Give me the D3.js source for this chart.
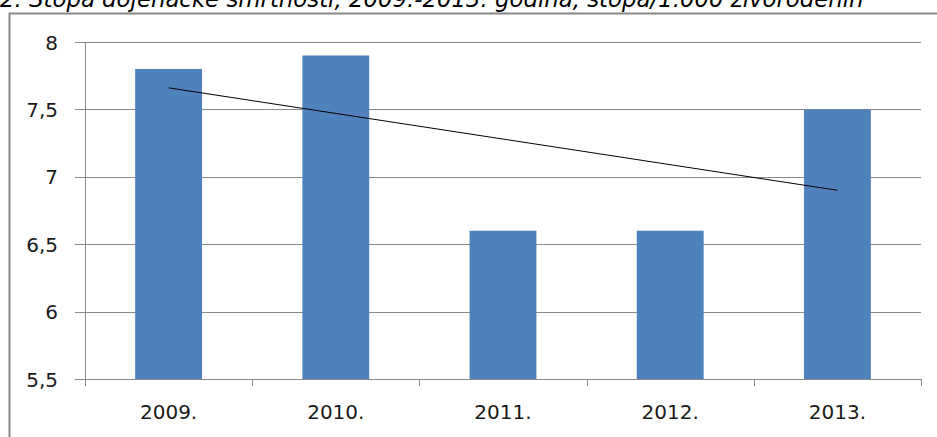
<!DOCTYPE html>
<html><head><meta charset="utf-8">
<script src="https://cdn.jsdelivr.net/npm/d3@7"></script>
<style>body{margin:0;background:#fff}svg{display:block}</style>
</head><body>
<script>
const title = "2. Stopa dojenačke smrtnosti, 2009.-2013. godina, stopa/1.000 živorođenih";
const categories = ["2009.", "2010.", "2011.", "2012.", "2013."];
const values = [7.8, 7.9, 6.6, 6.6, 7.5];
const yTicks = [5.5, 6, 6.5, 7, 7.5, 8];

(function () {
const W = 937, H = 437;
const svg = d3.select("body").append("svg").attr("width", W).attr("height", H);
const font = "'DejaVu Sans', Verdana, sans-serif";

// frame
svg.append("path").attr("d", `M9.5,${H} L9.5,13.5 L${W+5},13.5`)
  .attr("fill", "none").attr("stroke", "#878787").attr("stroke-width", 2);

// title
const t = svg.append("text").attr("x", 0).attr("y", 7).attr("font-family", font)
  .attr("font-style", "italic").attr("font-size", 20).attr("fill", "#000").text(title);
const tw = t.node().getComputedTextLength();
t.attr("font-size", 20 * 864 / tw);

const pL = 85, pR = 921, pT = 42, pB = 379;
const x = d3.scaleBand().domain(categories).range([pL, pR]).paddingInner(0.6).paddingOuter(0.3);
const xb = d3.scaleBand().domain(categories).range([pL, pR]);
const y = d3.scaleLinear().domain([5.5, 8]).range([pB, pT]);

// gridlines
svg.append("g").selectAll("line").data(yTicks).join("line")
  .attr("x1", pL - 10).attr("x2", pR).attr("y1", d => Math.round(y(d)) + 0.5).attr("y2", d => Math.round(y(d)) + 0.5)
  .attr("stroke", "#8a8a8a").attr("stroke-width", 1);

// y axis line
svg.append("line").attr("x1", pL + 0.5).attr("x2", pL + 0.5).attr("y1", pT).attr("y2", pB + 7)
  .attr("stroke", "#8a8a8a");
// x tick marks
const bounds = categories.map(c => xb(c)).concat([pR]);
svg.append("g").selectAll("line").data(bounds).join("line")
  .attr("x1", d => Math.round(d) + 0.5).attr("x2", d => Math.round(d) + 0.5)
  .attr("y1", pB).attr("y2", pB + 7).attr("stroke", "#8a8a8a");

// bars
svg.append("g").selectAll("rect").data(values).join("rect")
  .attr("x", (d, i) => x(categories[i])).attr("width", x.bandwidth())
  .attr("y", d => y(d)).attr("height", d => pB - y(d))
  .attr("fill", "#4f81bd");

// linear trend line
const n = values.length;
const xs = values.map((d, i) => i + 1);
const mx = d3.mean(xs), my = d3.mean(values);
const slope = d3.sum(xs.map((xi, i) => (xi - mx) * (values[i] - my))) / d3.sum(xs.map(xi => (xi - mx) ** 2));
const icpt = my - slope * mx;
const cx = c => xb(c) + xb.bandwidth() / 2;
svg.append("line")
  .attr("x1", cx(categories[0])).attr("y1", y(icpt + slope * 1))
  .attr("x2", cx(categories[n - 1])).attr("y2", y(icpt + slope * n))
  .attr("stroke", "#000").attr("stroke-width", 1);

// y labels
svg.append("g").selectAll("text").data(yTicks).join("text")
  .attr("x", 58).attr("y", d => y(d) + 7.5).attr("text-anchor", "end")
  .attr("font-family", font).attr("font-size", 20).attr("fill", "#1a1a1a")
  .text(d => String(d).replace(".", ","));

// x labels
svg.append("g").selectAll("text").data(categories).join("text")
  .attr("x", d => cx(d)).attr("y", 419).attr("text-anchor", "middle")
  .attr("font-family", font).attr("font-size", 20).attr("fill", "#1a1a1a").text(d => d);
})();
</script>
</body></html>
